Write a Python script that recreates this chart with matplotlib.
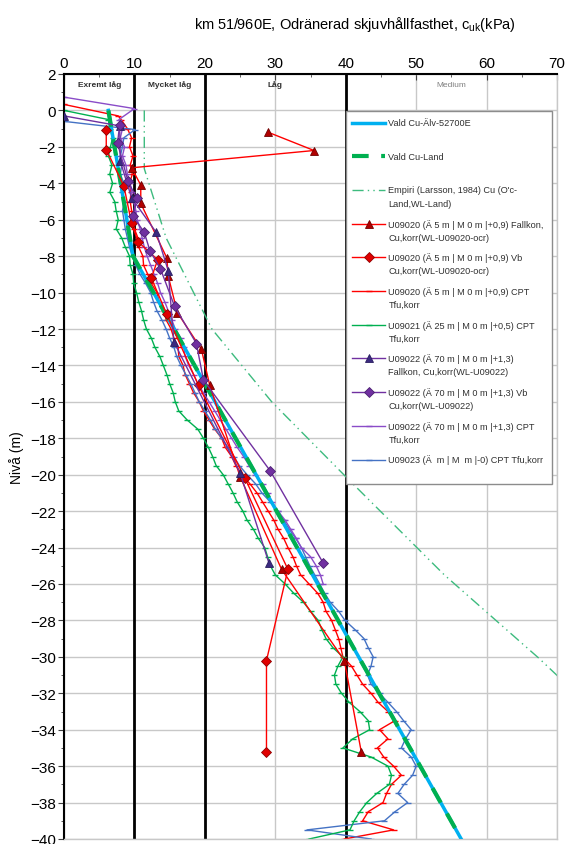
import matplotlib
matplotlib.use('Agg')
import matplotlib.pyplot as plt
from matplotlib.lines import Line2D
from matplotlib.patches import Rectangle
from matplotlib.ticker import MultipleLocator

plt.rcParams['font.family'] = ['Liberation Sans', 'DejaVu Sans']
plt.rcParams['mathtext.fontset'] = 'custom'
plt.rcParams['mathtext.rm'] = 'Liberation Sans'

# strength zones (kPa)
zone_names = ['Exremt låg', 'Mycket låg', 'Låg', 'Medium']
zone_mid = [5, 15, 30, 55]
zone_bounds = [10, 20, 40]

# chosen design lines
vald_alv_cu = [6.3, 9.8, 56.4]
vald_alv_lvl = [0.0, -8.0, -40.0]
vald_land_cu = [6.3, 9.8, 56.4]
vald_land_lvl = [0.0, -8.0, -40.0]

# empirical (Larsson 1984)
empiri_cu = [11.4, 11.4, 14.5, 21.0, 29.5, 40.5, 54.0, 67.5, 70.5]
empiri_lvl = [0.0, -3.2, -7.0, -12.0, -16.0, -20.3, -25.5, -30.1, -31.2]

# U09020 fall cone
u20_fk_cu = [29.0, 35.5, 9.6, 10.9, 10.9, 14.6, 14.8, 16.1, 19.5, 20.7, 25.0, 30.9, 39.8, 42.2]
u20_fk_lvl = [-1.2, -2.2, -3.15, -4.1, -5.1, -8.1, -9.1, -11.1, -13.1, -15.1, -20.1, -25.2, -30.2, -35.2]

# U09020 vane
u20_vb_cu = [6.0, 6.0, 8.5, 9.6, 10.5, 13.3, 12.4, 14.6, 19.1, 25.7, 31.8, 28.75, 28.75]
u20_vb_lvl = [-1.1, -2.15, -4.15, -6.2, -7.2, -8.2, -9.2, -11.2, -15.1, -20.2, -25.2, -30.2, -35.2]

# U09022 fall cone
u22_fk_cu = [0.0, 7.9, 8.0, 9.6, 13.1, 14.8, 15.6, 25.0, 29.1]
u22_fk_lvl = [-0.3, -0.85, -2.8, -4.8, -6.7, -8.8, -12.7, -19.9, -24.85]

# U09022 vane
u22_vb_cu = [7.9, 7.6, 9.1, 10.3, 9.8, 11.4, 12.2, 13.7, 15.7, 18.8, 19.8, 29.3, 36.8]
u22_vb_lvl = [-0.8, -1.8, -3.9, -4.8, -5.8, -6.7, -7.7, -8.7, -10.75, -12.8, -14.8, -19.8, -24.85]

# CPT sounding grid (every 0.5 m)
cpt_lvl = [-0.5, -1.0, -1.5, -2.0, -2.5, -3.0, -3.5, -4.0, -4.5, -5.0,
           -5.5, -6.0, -6.5, -7.0, -7.5, -8.0, -8.5, -9.0, -9.5, -10.0,
           -10.5, -11.0, -11.5, -12.0, -12.5, -13.0, -13.5, -14.0, -14.5, -15.0,
           -15.5, -16.0, -16.5, -17.0, -17.5, -18.0, -18.5, -19.0, -19.5, -20.0,
           -20.5, -21.0, -21.5, -22.0, -22.5, -23.0, -23.5, -24.0, -24.5, -25.0,
           -25.5, -26.0, -26.5, -27.0, -27.5, -28.0, -28.5, -29.0, -29.5, -30.0,
           -30.5, -31.0, -31.5, -32.0, -32.5, -33.0, -33.5, -34.0, -34.5, -35.0,
           -35.5, -36.0, -36.5, -37.0, -37.5, -38.0, -38.5, -39.0, -39.5, -40.0]

u20_cpt_top_cu = [0.0, 7.7]
u20_cpt_top_lvl = [0.33, -0.3]
u20_cpt_cu = [8.1, 9.0, 9.6, 9.3, 9.8, 9.4, 9.7, 9.3, 9.5, 9.4,
              9.6, 9.8, 10.0, 10.5, 10.6, 11.2, 11.3, 11.9, 12.4, 13.2,
              13.5, 14.2, 14.5, 15.2, 15.6, 16.2, 16.3, 16.9, 17.2, 17.8,
              18.4, 19.2, 19.8, 20.6, 21.4, 22.4, 22.9, 23.8, 24.4, 25.3,
              26.4, 27.4, 28.2, 29.0, 29.8, 30.4, 31.2, 31.8, 32.5, 33.0,
              33.6, 34.8, 36.0, 36.8, 37.2, 38.0, 38.5, 39.0, 39.3, 39.6,
              40.8, 41.6, 42.4, 43.6, 44.6, 46.0, 47.0, 44.8, 46.0, 44.5,
              45.4, 46.8, 47.9, 46.5, 45.8, 45.3, 43.2, 42.4, 46.8, 39.8]

u21_cpt_top_cu = [0.0]
u21_cpt_top_lvl = [0.0]
u21_cpt_cu = [6.3, 6.5, 6.9, 6.6, 6.3, 6.8, 6.5, 6.9, 6.5, 7.2,
              7.4, 7.7, 7.4, 8.2, 8.7, 9.3, 9.4, 9.8, 9.9, 10.3,
              10.6, 11.0, 11.3, 11.7, 12.4, 12.9, 13.6, 14.1, 14.6, 15.0,
              15.5, 15.8, 16.3, 17.5, 19.0, 19.8, 20.5, 21.1, 21.6, 22.6,
              23.3, 24.0, 24.6, 25.4, 26.0, 26.9, 27.6, 28.5, 28.9, 29.3,
              30.0, 31.4, 32.6, 34.0, 35.0, 36.1, 36.6, 37.2, 38.2, 39.6,
              38.9, 38.4, 38.6, 39.4, 40.5, 42.0, 43.2, 43.4, 41.0, 39.6,
              43.6, 46.0, 46.5, 46.2, 44.4, 43.0, 42.0, 41.2, 40.6, 34.8]

u22_cpt_top_cu = [0.0, 10.0]
u22_cpt_top_lvl = [0.73, 0.1]
u22_cpt_cu = [7.8, 8.3, 8.0, 8.6, 8.3, 8.8, 9.0, 9.4, 9.6, 9.9,
              10.2, 10.4, 10.8, 11.1, 11.4, 11.8, 12.3, 12.8, 13.3, 13.7,
              14.3, 14.8, 15.3, 15.8, 16.6, 17.0, 17.2, 17.7, 18.4, 19.0,
              19.8, 20.6, 21.4, 22.2, 23.0, 23.8, 24.6, 25.5, 26.3, 27.1,
              28.2, 28.9, 29.5, 30.4, 31.4, 32.2, 33.0, 33.7, 35.0, 35.8,
              36.4, 36.8]

# U09023 starts below -1 m (grid from -1.5 m)
u23_cpt_top_cu = [0.0, 10.1]
u23_cpt_top_lvl = [-0.6, -1.05]
u23_cpt_cu = [8.5, 8.3, 8.0, 8.2, 8.0, 8.5, 8.2, 8.6,
              8.3, 8.5, 8.7, 9.0, 9.3, 9.7, 10.2, 10.8, 11.6, 12.3,
              12.7, 13.2, 13.9, 14.5, 15.0, 15.6, 16.0, 16.6, 17.3, 18.0,
              18.6, 19.2, 20.0, 20.8, 21.5, 22.4, 23.3, 24.1, 24.9, 26.0,
              27.2, 28.1, 29.3, 30.4, 31.2, 32.0, 32.9, 33.7, 34.3, 34.9,
              35.6, 36.3, 37.0, 37.8, 39.0, 39.9, 41.3, 42.6, 43.2, 43.9,
              43.6, 43.1, 43.6, 44.8, 46.0, 47.2, 48.2, 49.3, 48.5, 47.9,
              49.3, 50.0, 49.5, 48.3, 47.4, 48.8, 47.0, 45.5, 34.5, 43.6]

RED = '#FF0000'
GREEN = '#00B050'
CYAN = '#00B0F0'
EMP = '#3DBB7E'
PURPLE = '#7030A0'
PURPLE_CPT = '#8A4CC8'
BLUE = '#4472C4'

styles = [
    ('Vald Cu-Älv-52700E', dict(color=CYAN, lw=2.5)),
    ('Vald Cu-Land', dict(color=GREEN, lw=3, ls=(0, (4, 3)))),
    ("Empiri (Larsson, 1984) Cu (O'c-\nLand,WL-Land)", dict(color=EMP, lw=1, ls=(0, (8, 3, 1, 3, 1, 3)))),
    ('U09020 (Ä 5 m | M 0 m |+0,9) Fallkon,\nCu,korr(WL-U09020-ocr)',
     dict(color=RED, lw=1, marker='^', ms=6, mfc='#B00000', mec='#700000', mew=0.6)),
    ('U09020 (Ä 5 m | M 0 m |+0,9) Vb\nCu,korr(WL-U09020-ocr)',
     dict(color=RED, lw=1, marker='D', ms=5, mfc='#E00000', mec='#900000', mew=0.6)),
    ('U09020 (Ä 5 m | M 0 m |+0,9) CPT\nTfu,korr', dict(color=RED, lw=1, marker='_', ms=4, mew=1)),
    ('U09021 (Ä 25 m | M 0 m |+0,5) CPT\nTfu,korr', dict(color=GREEN, lw=1, marker='_', ms=4, mew=1)),
    ('U09022 (Ä 70 m | M 0 m |+1,3)\nFallkon, Cu,korr(WL-U09022)',
     dict(color=PURPLE, lw=1, marker='^', ms=6, mfc='#3B2A80', mec='#2A1D60', mew=0.6)),
    ('U09022 (Ä 70 m | M 0 m |+1,3) Vb\nCu,korr(WL-U09022)',
     dict(color=PURPLE, lw=1, marker='D', ms=5, mfc=PURPLE, mec='#4A1F70', mew=0.6)),
    ('U09022 (Ä 70 m | M 0 m |+1,3) CPT\nTfu,korr', dict(color=PURPLE_CPT, lw=1, marker='_', ms=4, mew=1)),
    ('U09023 (Ä  m | M  m |-0) CPT Tfu,korr', dict(color=BLUE, lw=1, marker='_', ms=4, mew=1)),
]
st = {i: s for i, (_, s) in enumerate(styles)}

fig = plt.figure(figsize=(5.68, 8.45), dpi=100)
ax = fig.add_axes([64 / 568, 5 / 845, 493 / 568, 765 / 845])

# CPT profiles
ax.plot(u20_cpt_top_cu + u20_cpt_cu, u20_cpt_top_lvl + cpt_lvl, zorder=2, **st[5])
ax.plot(u23_cpt_top_cu + u23_cpt_cu, u23_cpt_top_lvl + cpt_lvl[2:], zorder=2, **st[10])
ax.plot(u21_cpt_top_cu + u21_cpt_cu, u21_cpt_top_lvl + cpt_lvl, zorder=2, **st[6])
ax.plot(u22_cpt_top_cu + u22_cpt_cu, u22_cpt_top_lvl + cpt_lvl[:len(u22_cpt_cu)], zorder=2, **st[9])

ax.plot(empiri_cu, empiri_lvl, zorder=2, **st[2])

# design lines
ax.plot(vald_alv_cu, vald_alv_lvl, zorder=3, **st[0])
ax.plot(vald_land_cu, vald_land_lvl, zorder=3, **st[1])

# lab / field tests
ax.plot(u20_fk_cu, u20_fk_lvl, zorder=4, **st[3])
ax.plot(u20_vb_cu, u20_vb_lvl, zorder=4, **st[4])
ax.plot(u22_fk_cu, u22_fk_lvl, zorder=4, **st[7])
ax.plot(u22_vb_cu, u22_vb_lvl, zorder=4, **st[8])

# zone boundaries and labels
for b in zone_bounds:
    ax.axvline(b, color='black', lw=2, zorder=1.5)
for name, xm in zip(zone_names, zone_mid):
    if name == 'Medium':
        ax.text(xm, 1.45, name, ha='center', va='center', fontsize=6, color='#808080')
    else:
        ax.text(xm, 1.45, name, ha='center', va='center', fontsize=6, fontweight='bold', color='#303030')

ax.set_xlim(0, 70)
ax.set_ylim(-40, 2)
ax.xaxis.tick_top()
ax.xaxis.set_major_locator(MultipleLocator(10))
ax.xaxis.set_minor_locator(MultipleLocator(5))
ax.yaxis.set_major_locator(MultipleLocator(2))
ax.yaxis.set_minor_locator(MultipleLocator(1))
ax.tick_params(axis='y', which='major', labelsize=11, length=4, color='#404040', pad=2)
ax.tick_params(axis='y', which='minor', length=2.5, color='#404040')
ax.tick_params(axis='x', which='major', labelsize=11, direction='in', length=4, color='#404040', pad=3)
ax.tick_params(axis='x', which='minor', direction='in', length=2.5, color='#404040')
ax.grid(True, which='major', color='#C8C8C8', lw=1, zorder=0)
ax.set_axisbelow(True)
for side in ['left', 'top']:
    ax.spines[side].set_linewidth(1.5)
    ax.spines[side].set_color('black')
for side in ['right', 'bottom']:
    ax.spines[side].set_linewidth(1)
    ax.spines[side].set_color('#C8C8C8')

ax.set_ylabel('Nivå (m)', fontsize=10, labelpad=4)
fig.text(355 / 568, 1 - 24 / 845, r'km 51/960E, Odränerad skjuvhållfasthet, c$_{\mathrm{uk}}$(kPa)',
         ha='center', va='center', fontsize=10.5)


# legend box, drawn by hand so the handle sits on the first text line
def ax_x(px):
    return (px - 64) / 493


def ax_y(py):
    return (840 - py) / 765


ax.add_patch(Rectangle((ax_x(346), ax_y(485)), ax_x(552) - ax_x(346), ax_y(112) - ax_y(485),
                       transform=ax.transAxes, facecolor='white', edgecolor='#8C8C8C', lw=1,
                       zorder=6, clip_on=False))
for i, (label, s) in enumerate(styles):
    py = 123.5 + i * 33.7
    line_kw = {k: v for k, v in s.items() if k not in ('marker', 'ms', 'mfc', 'mec', 'mew')}
    ax.add_line(Line2D([ax_x(352), ax_x(385)], [ax_y(py), ax_y(py)], transform=ax.transAxes,
                       zorder=7, clip_on=False, **line_kw))
    if 'marker' in s:
        ax.add_line(Line2D([ax_x(368.5)], [ax_y(py)], transform=ax.transAxes, zorder=8, clip_on=False,
                           ls='none', marker=s['marker'], ms=s['ms'], color=s['color'],
                           mfc=s.get('mfc', s['color']), mec=s.get('mec', s['color']), mew=s['mew']))
    for k, line in enumerate(label.split('\n')):
        ax.text(ax_x(388.5), ax_y(py + k * 13.5), line, transform=ax.transAxes, fontsize=6.6,
                ha='left', va='center', color='#303030', zorder=8)

fig.savefig('out.png', dpi=100)
